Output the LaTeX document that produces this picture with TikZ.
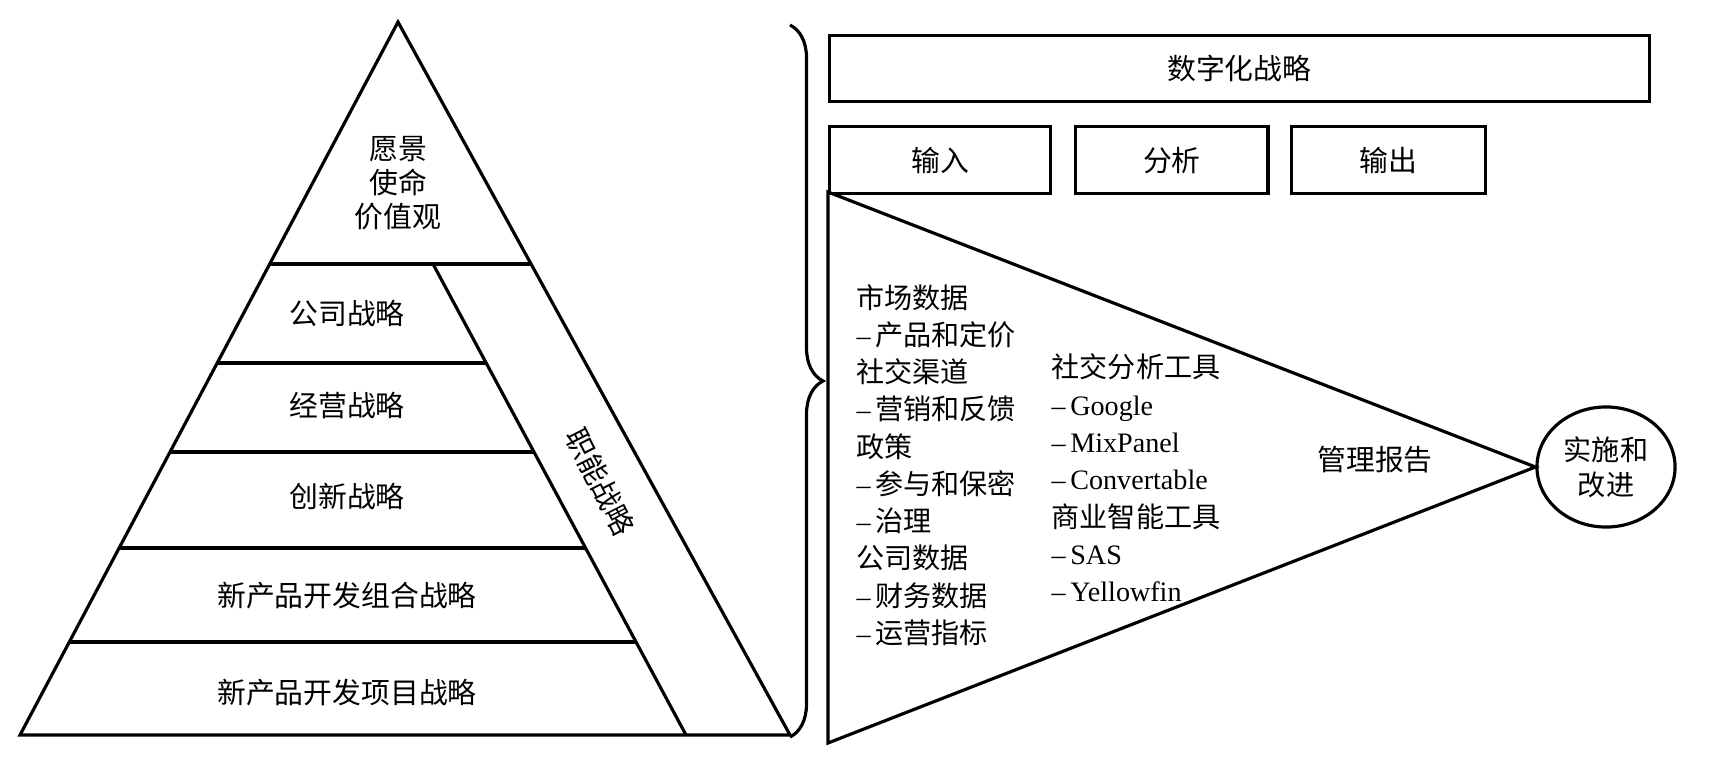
\documentclass[tikz,border=0pt]{standalone}
\usepackage{fontspec}
\setmainfont{Liberation Serif}
\newfontfamily\cjk{Noto Sans CJK SC}
\usetikzlibrary{shapes.geometric, positioning, calc, decorations.pathreplacing}
\newcommand{\itemdash}{{\rmfamily –\,}}

\begin{document}
\begin{tikzpicture}[
  x=0.01cm, y=-0.01cm, line width=0.9pt,
  layertext/.style={align=center, inner sep=0pt, font=\cjk\fontsize{8.2pt}{9.6pt}\selectfont},
  stratbox/.style={rectangle, draw, minimum height=0.67cm, inner sep=0pt, font=\cjk\fontsize{8.2pt}{9.6pt}\selectfont},
  listtext/.style={align=left, anchor=west, inner sep=0pt, font=\cjk\fontsize{8pt}{10.6pt}\selectfont},
  goalnode/.style={ellipse, draw, minimum width=1.38cm, minimum height=1.2cm, inner sep=0pt, align=center, font=\cjk\fontsize{8pt}{9.9pt}\selectfont},
  bracket/.style={decorate, decoration={brace, amplitude=0.33cm}}
]
  \useasboundingbox (0,0) rectangle (1710,758);

  % Pyramid
  \coordinate (apex) at (398,22);
  \coordinate (bl) at (20,735);
  \coordinate (br) at (790,735);
  \coordinate (itop) at (433,264);
  \coordinate (ibot) at (686,735);
  \draw (apex) -- (bl) -- (br) -- cycle;
  \draw (itop) -- (ibot);

  % Layers
  \draw (269.7,264) -- (531.1,264);
  \draw (217.2,363) -- (486.2,363);
  \draw (170.0,452) -- (534.0,452);
  \draw (119.1,548) -- (585.6,548);
  \draw (69.3,642) -- (636.1,642);

  \node[layertext] (vision) at (398,183) {愿景\\使命\\价值观};
  \node[layertext] (corp) at (347,313) {公司战略};
  \node[layertext] (biz) at (347,406) {经营战略};
  \node[layertext] (innov) at (347,496) {创新战略};
  \node[layertext] (portf) at (347,596) {新产品开发组合战略};
  \node[layertext] (proj) at (347,693) {新产品开发项目战略};
  \node[layertext, rotate=-63] (func) at (600,482) {职能战略};

  % Brace
  \coordinate (btop) at (790,25);
  \coordinate (bbot) at (790,737);
  \draw[bracket] (btop) -- (bbot);

  % Digital strategy boxes
  \node[stratbox, anchor=north west, minimum width=8.19cm, minimum height=0.66cm] (digital) at (828,34) {数字化战略};
  \node[stratbox, anchor=north west, minimum width=2.21cm] (inbox) at (828,125) {输入};
  \node[stratbox, right=0.22cm of inbox, minimum width=1.92cm] (anabox) {分析};
  \node[stratbox, right=0.2cm of anabox, minimum width=1.94cm] (outbox) {输出};

  % Funnel
  \node[goalnode] (goal) at (1606,467) {实施和\\改进};
  \coordinate (tritop) at (828,192);
  \coordinate (tribot) at (828,743);
  \draw (tritop) -- (goal.west) -- (tribot) -- cycle;

  \node[listtext] (data) at (855,465) {市场数据\\\itemdash 产品和定价\\社交渠道\\\itemdash 营销和反馈\\政策\\\itemdash 参与和保密\\\itemdash 治理\\公司数据\\\itemdash 财务数据\\\itemdash 运营指标};
  \node[listtext] (tools) at (1050,478) {社交分析工具\\{\rmfamily –\,Google}\\{\rmfamily –\,MixPanel}\\{\rmfamily –\,Convertable}\\商业智能工具\\{\rmfamily –\,SAS}\\{\rmfamily –\,Yellowfin}};
  \node[layertext] (report) at (1375,460) {管理报告};
\end{tikzpicture}
\end{document}
